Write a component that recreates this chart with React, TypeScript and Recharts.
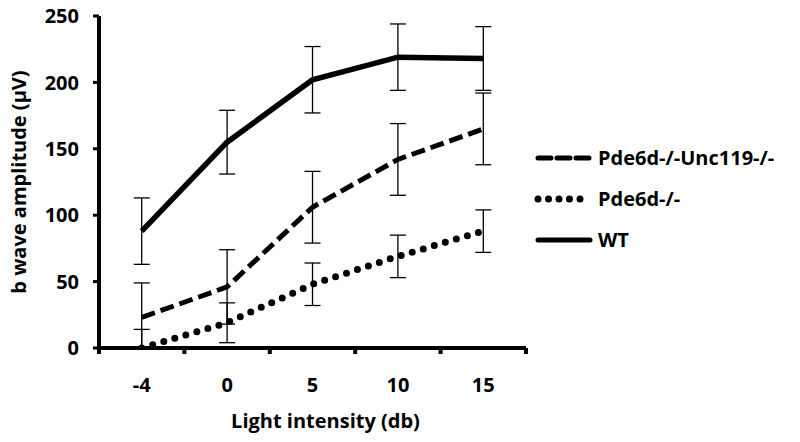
import { LineChart, Line, XAxis, YAxis, ErrorBar, Label } from 'recharts';

// Light intensity steps (db)
const intensities = ['-4', '0', '5', '10', '15'];

// b wave amplitude means (µV)
const wtValues = [88, 155, 202, 219, 218];
const dkoValues = [23, 46, 106, 142, 165];
const koValues = [0, 19, 48, 69, 88];

// error bar half-widths
const wtErrors = [25, 24, 25, 25, 24];
const dkoErrors = [26, 28, 27, 27, 27];
const koErrors = [14, 15, 16, 16, 16];

const yTicks = [0, 50, 100, 150, 200, 250];
const bandTicks = [0, 1, 2, 3, 4, 5];

// bars below 0 are cut off by the axis in the original
const clampErr = (v: number, e: number) => [Math.min(e, v), e];

const data = intensities.map((x, i) => ({
    pos: i + 0.5,
    wt: wtValues[i],
    wtErr: clampErr(wtValues[i], wtErrors[i]),
    dko: dkoValues[i],
    dkoErr: clampErr(dkoValues[i], dkoErrors[i]),
    ko: koValues[i],
    koErr: clampErr(koValues[i], koErrors[i]),
}));

const FONT = '"Open Sans", Lato, sans-serif';
const labelFont = { fontFamily: FONT, fontWeight: 700, fontSize: 20, fill: '#000' };

const PLOT_W = 427;
const BAND = PLOT_W / intensities.length;

const BandTick = ({ x, y, payload }: { x?: number; y?: number; payload?: { value: number } }) => {
    const label = intensities[payload?.value ?? -1];
    if (label === undefined) return null;
    return (
        <text x={(x ?? 0) + BAND / 2} y={(y ?? 0) + 22} textAnchor="middle" dy="0.71em" style={labelFont}>
            {label}
        </text>
    );
};

const legendItems = [
    { name: 'Pde6d-/-Unc119-/-', dash: '13 6', width: 5 },
    { name: 'Pde6d-/-', dash: '0 10.5', width: 7 },
    { name: 'WT', dash: undefined, width: 5 },
];

export default function App() {
    return (
        <div style={{ position: 'absolute', left: 0, top: 0, width: 800, height: 442, background: '#fff' }}>
            <LineChart
                width={800}
                height={442}
                data={data}
                margin={{ top: 16, right: 274, left: 0, bottom: 0 }}
            >
                <XAxis
                    dataKey="pos"
                    type="number"
                    domain={[0, 5]}
                    ticks={bandTicks}
                    height={94}
                    axisLine={{ stroke: '#000', strokeWidth: 4 }}
                    tickLine={{ stroke: '#000', strokeWidth: 4 }}
                    tickSize={6}
                    tick={<BandTick />}
                    interval={0}
                >
                    <Label value="Light intensity (db)" position="center" dx={13} dy={26} style={labelFont} />
                </XAxis>
                <YAxis
                    width={99}
                    domain={[0, 250]}
                    ticks={yTicks}
                    allowDataOverflow
                    axisLine={{ stroke: '#000', strokeWidth: 4 }}
                    tickLine={{ stroke: '#000', strokeWidth: 3 }}
                    tickSize={6}
                    tickMargin={14}
                    tick={labelFont}
                >
                    <Label value="b wave amplitude (µV)" angle={-90} position="center" dx={-31} style={labelFont} />
                </YAxis>
                <Line
                    dataKey="wt"
                    stroke="#000"
                    strokeWidth={5.5}
                    dot={false}
                    isAnimationActive={false}
                >
                    <ErrorBar dataKey="wtErr" direction="y" width={8} stroke="#000" strokeWidth={1.3} />
                </Line>
                <Line
                    dataKey="dko"
                    stroke="#000"
                    strokeWidth={5}
                    strokeDasharray="14 6"
                    dot={false}
                    isAnimationActive={false}
                >
                    <ErrorBar dataKey="dkoErr" direction="y" width={8} stroke="#000" strokeWidth={1.3} />
                </Line>
                <Line
                    dataKey="ko"
                    stroke="#000"
                    strokeWidth={7}
                    strokeDasharray="0 11.5"
                    strokeLinecap="round"
                    dot={false}
                    isAnimationActive={false}
                >
                    <ErrorBar dataKey="koErr" direction="y" width={8} stroke="#000" strokeWidth={1.3} />
                </Line>
            </LineChart>
            <svg width={270} height={120} style={{ position: 'absolute', left: 530, top: 138 }}>
                {legendItems.map((item, i) => (
                    <g key={item.name} transform={`translate(0, ${20 + i * 41})`}>
                        <line
                            x1={8}
                            x2={60}
                            y1={0}
                            y2={0}
                            stroke="#000"
                            strokeWidth={item.width}
                            strokeDasharray={item.dash}
                            strokeLinecap="round"
                        />
                        <text x={68} y={0} dy="0.35em" style={labelFont}>
                            {item.name}
                        </text>
                    </g>
                ))}
            </svg>
        </div>
    );
}
